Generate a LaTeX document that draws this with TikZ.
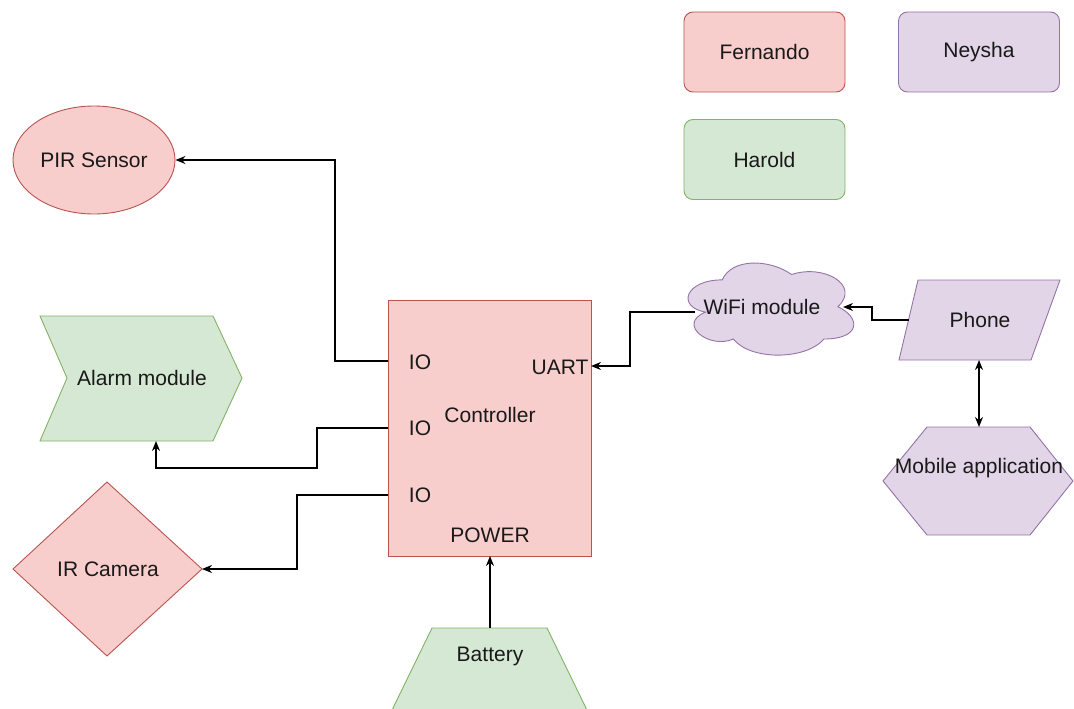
\documentclass[tikz,border=0pt]{standalone}
\usepackage{fontspec}
\setmainfont{Liberation Sans}
\usetikzlibrary{arrows.meta,shapes.geometric}
\definecolor{redF}{HTML}{F8CECC}
\definecolor{redD}{HTML}{B85450}
\definecolor{greenF}{HTML}{D5E8D4}
\definecolor{greenD}{HTML}{82B366}
\definecolor{purF}{HTML}{E1D5E7}
\definecolor{purD}{HTML}{9673A6}
\begin{document}
\begin{tikzpicture}[x=1pt,y=-1pt,
  lbl/.style={font=\fontsize{21}{25}\selectfont, inner sep=0pt, text=black!90},
  redshape/.style={draw=redD, fill=redF, line width=0.9pt},
  greenshape/.style={draw=greenD, fill=greenF, line width=0.9pt},
  purshape/.style={draw=purD, fill=purF, line width=0.9pt},
  legend/.style={rounded corners=9pt, minimum width=161pt, minimum height=80pt, inner sep=0pt, line width=0.9pt},
  conn/.style={draw=black, line width=1.3pt, -{Stealth[length=10pt,width=8pt]}},
  biconn/.style={draw=black, line width=1.3pt, {Stealth[length=10pt,width=8pt]}-{Stealth[length=10pt,width=8pt]}}]
\useasboundingbox (0,0) rectangle (1074,709);

% legend
\node[legend, redshape] (fernando) at (764.5,52) {};
\node[lbl] at (fernando) {Fernando};
\node[legend, purshape] (neysha) at (979,52) {};
\node[lbl] at (neysha) {Neysha};
\node[legend, greenshape] (harold) at (764.5,159.5) {};
\node[lbl] at (harold) {Harold};

% PIR sensor
\node[ellipse, redshape, minimum width=162pt, minimum height=108pt, inner sep=0pt] (pir) at (94,160) {};
\node[lbl] at (pir) {PIR Sensor};

% Alarm module
\path[greenshape] (40,316) -- (213,316) -- (242,378) -- (213,441) -- (40,441) -- (67,378) -- cycle;
\node[lbl] (alarm) at (142,378) {Alarm module};
\coordinate (alarmB) at (156,441);

% IR camera
\path[redshape] (107,482) -- (202,569) -- (107,656) -- (13,569) -- cycle;
\node[lbl] (ir) at (108,569) {IR Camera};
\coordinate (irE) at (202,569);

% Controller
\node[redshape, minimum width=203pt, minimum height=256pt, inner sep=0pt] (ctrl) at (489.5,428) {};
\node[lbl] (ctrltext) at (490,415) {Controller};
\node[lbl] (io1t) at (420,362) {IO};
\node[lbl] (io2t) at (420,428) {IO};
\node[lbl] (io3t) at (420,495) {IO};
\node[lbl] (uartt) at (560,367) {UART};
\node[lbl] (powert) at (490,535) {POWER};
\coordinate (io1) at (388,361);
\coordinate (io2) at (388,428);
\coordinate (io3) at (388,495);
\coordinate (uart) at (591,366);
\coordinate (powerIn) at (490,556);

% Battery
\path[greenshape] (432,628) -- (547,628) -- (589.4,715) -- (389.6,715) -- cycle;
\node[lbl] (batt) at (490,656) {Battery};
\coordinate (battT) at (490,628);

% WiFi cloud
\begin{scope}[shift={(676,253)}, x=185pt, y=-107.5pt]
\path[purshape] (0.25,0.25) .. controls (0.05,0.25) and (0,0.5) .. (0.16,0.55)
  .. controls (0,0.66) and (0.18,0.9) .. (0.31,0.8)
  .. controls (0.4,1) and (0.7,1) .. (0.8,0.8)
  .. controls (1,0.8) and (1,0.6) .. (0.875,0.5)
  .. controls (1,0.3) and (0.8,0.1) .. (0.625,0.2)
  .. controls (0.5,0.05) and (0.3,0.05) .. (0.25,0.25) -- cycle;
\end{scope}
\node[lbl] (wifi) at (762,307) {WiFi module};
\coordinate (wifiL) at (695,312);
\coordinate (wifiR) at (843,307);

% Phone
\path[purshape] (918,280) -- (1060,280) -- (1031,360) -- (899,360) -- cycle;
\node[lbl] (phone) at (980,320) {Phone};
\coordinate (phoneL) at (908.5,320);
\coordinate (phoneB) at (979,360);

% Mobile application
\path[purshape] (927,427) -- (1030,427) -- (1073,481) -- (1030,535) -- (927,535) -- (883,481) -- cycle;
\node[lbl] (mob) at (979,468) {Mobile application};
\coordinate (mobT) at (979,427);

% connectors
\draw[conn] (io1) -- (335,361) |- (pir.east);
\draw[conn] (io2) -- (317,428) |- (156,468) -- (alarmB);
\draw[conn] (io3) -- (297,495) |- (irE);
\draw[conn] (wifiL) -| (630,366) -- (uart);
\draw[conn] (phoneL) -| (872,307) -- (wifiR);
\draw[biconn] (phoneB) -- (mobT);
\draw[conn] (battT) -- (powerIn);
\end{tikzpicture}
\end{document}
